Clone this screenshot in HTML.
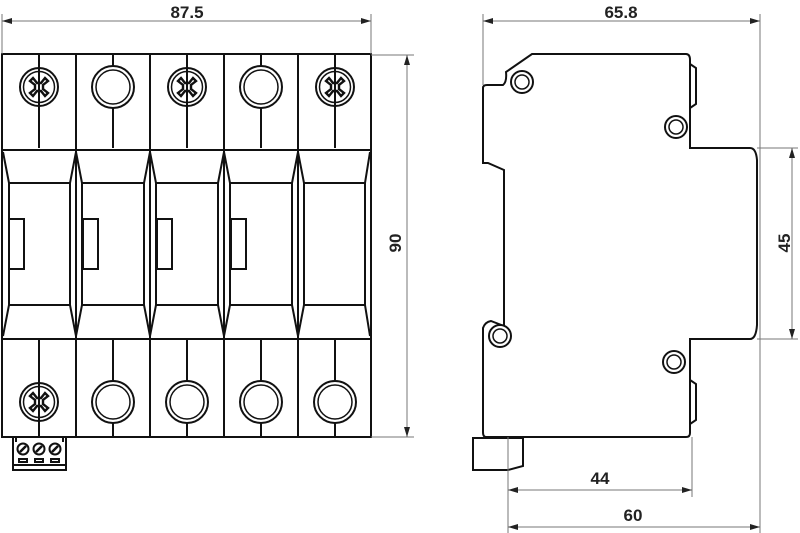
<!DOCTYPE html>
<html><head><style>html,body{margin:0;padding:0;background:#fff}svg{display:block}</style></head><body>
<svg width="800" height="533" viewBox="0 0 800 533" xmlns="http://www.w3.org/2000/svg" font-family="Liberation Sans, sans-serif" font-weight="bold">
<defs>
<marker id="a" viewBox="0 0 10 6" refX="10" refY="3" markerWidth="10" markerHeight="6" orient="auto-start-reverse" markerUnits="userSpaceOnUse"><path d="M0,0L10,3L0,6z" fill="#222"/></marker>
<g id="cross"><circle r="19" fill="none" stroke="#111" stroke-width="2"/><circle r="15.5" fill="none" stroke="#111" stroke-width="1.5"/>
<path d="M-6,-9 L-2,-4 L2,-4 L6,-9 L9,-6 L4,-2 L4,2 L9,6 L6,9 L2,4 L-2,4 L-6,9 L-9,6 L-4,2 L-4,-2 L-9,-6Z" fill="none" stroke="#111" stroke-width="2.4"/></g>
<g id="ring"><circle r="21" fill="#fff" stroke="#111" stroke-width="2"/><circle r="17" fill="none" stroke="#111" stroke-width="1.5"/></g>
<g id="sring"><circle r="11" fill="#fff" stroke="#111" stroke-width="2"/><circle r="7" fill="none" stroke="#111" stroke-width="1.5"/></g>
</defs>
<g stroke="#111" stroke-width="2" fill="none">
<rect x="2" y="54" width="369" height="383"/>
<line x1="2" y1="150" x2="371" y2="150"/>
<line x1="2" y1="339" x2="371" y2="339"/>
<line x1="76" y1="54" x2="76" y2="437"/><line x1="150" y1="54" x2="150" y2="437"/><line x1="224" y1="54" x2="224" y2="437"/><line x1="298" y1="54" x2="298" y2="437"/>
<path d="M39,54V148M113,54V148M187,54V148M261,54V148M335,54V148M39,339V437M113,339V437M187,339V437M261,339V437M335,339V437"/>
<path d="M3,152L9,183V305L3,336M370,152L365,183V305L370,336"/>
<path d="M76,152L70,183V305L76,336L82,305V183Z M150,152L144,183V305L150,336L156,305V183Z M224,152L218,183V305L224,336L230,305V183Z M298,152L292,183V305L298,336L304,305V183Z"/>
<path d="M9,183H70M82,183H144M156,183H218M230,183H292M304,183H365M9,305H70M82,305H144M156,305H218M230,305H292M304,305H365"/>
<rect x="9" y="219" width="15" height="50"/><rect x="83" y="219" width="15" height="50"/><rect x="157" y="219" width="15" height="50"/><rect x="231" y="219" width="15" height="50"/>
</g>
<use href="#cross" x="39" y="87"/><use href="#ring" x="113" y="87"/><use href="#cross" x="187" y="87"/><use href="#ring" x="261" y="87"/><use href="#cross" x="335" y="87"/>
<use href="#cross" x="39" y="402"/><use href="#ring" x="113" y="402"/><use href="#ring" x="187" y="402"/><use href="#ring" x="261" y="402"/><use href="#ring" x="335" y="402"/>
<g stroke="#111" stroke-width="2" fill="none">
<path d="M13,437V470H66V437M16,437V442M63,437V442M13,465H66"/>
<circle cx="23" cy="449" r="5.5"/><circle cx="39" cy="449" r="5.5"/><circle cx="55" cy="449" r="5.5"/>
<path d="M20,452L26,446M36,452L42,446M52,452L58,446" stroke-width="2.5"/>
<rect x="19" y="459" width="8" height="3"/><rect x="35" y="459" width="8" height="3"/><rect x="51" y="459" width="8" height="3"/>
</g>
<g stroke="#777" stroke-width="1" fill="none">
<line x1="2" y1="14" x2="2" y2="54"/><line x1="371" y1="14" x2="371" y2="54"/>
<line x1="2" y1="21" x2="371" y2="21" marker-start="url(#a)" marker-end="url(#a)"/>
<line x1="371" y1="55" x2="414" y2="55"/><line x1="371" y1="437" x2="414" y2="437"/>
<line x1="407" y1="55" x2="407" y2="437" marker-start="url(#a)" marker-end="url(#a)"/>
</g>
<text x="187" y="18" font-size="17" text-anchor="middle" fill="#222">87.5</text>
<text transform="translate(401,243) rotate(-90)" font-size="17" text-anchor="middle" fill="#222">90</text>
<g stroke="#111" stroke-width="2" fill="none">
<path d="M532,54H686Q690,54 690,60V148H750Q756,148 757,160V325Q756,339 750,339H690V433Q690,437 686,437H486Q483,437 483,432V328Q485,322 491,321L504,326V170L488,163H483V88Q483,85 487,85H503Q507,82 506,72Z"/>
<path d="M690,64L696,68V104L690,108M690,380L696,384V420L690,424"/>
<path d="M473,438H523V466L508,470H473Z"/>
</g>
<use href="#sring" x="522" y="82"/><use href="#sring" x="676" y="127"/><use href="#sring" x="500" y="336"/><use href="#sring" x="674" y="362"/>
<g stroke="#777" stroke-width="1" fill="none">
<line x1="483" y1="14" x2="483" y2="85"/><line x1="760" y1="14" x2="760" y2="533"/>
<line x1="483" y1="21" x2="760" y2="21" marker-start="url(#a)" marker-end="url(#a)"/>
<line x1="757" y1="148" x2="798" y2="148"/><line x1="757" y1="339" x2="798" y2="339"/>
<line x1="792" y1="148" x2="792" y2="339" marker-start="url(#a)" marker-end="url(#a)"/>
<line x1="508" y1="437" x2="508" y2="533"/><line x1="692" y1="437" x2="692" y2="497"/>
<line x1="508" y1="490" x2="692" y2="490" marker-start="url(#a)" marker-end="url(#a)"/>
<line x1="508" y1="527" x2="760" y2="527" marker-start="url(#a)" marker-end="url(#a)"/>
</g>
<text x="621" y="18" font-size="17" text-anchor="middle" fill="#222">65.8</text>
<text transform="translate(790,243) rotate(-90)" font-size="17" text-anchor="middle" fill="#222">45</text>
<text x="600" y="484" font-size="17" text-anchor="middle" fill="#222">44</text>
<text x="633" y="521" font-size="17" text-anchor="middle" fill="#222">60</text>
</svg>
</body></html>
